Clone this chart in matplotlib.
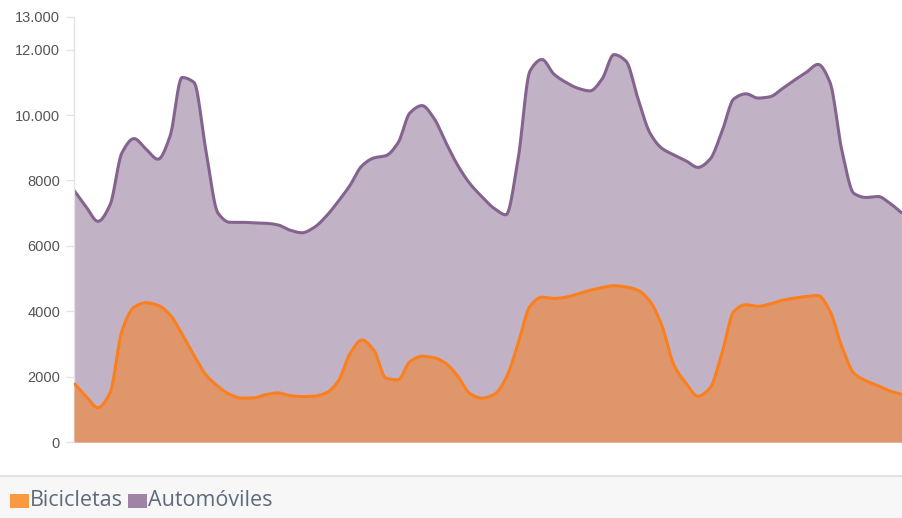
import numpy as np
import matplotlib
matplotlib.use("Agg")
import matplotlib.pyplot as plt
from matplotlib.patches import Rectangle
from matplotlib.lines import Line2D

# series values (one sample per step along the x axis)
automoviles = [7700, 7200, 6750, 7250, 8850, 9280, 8960, 8650, 9350, 11150,
               11000, 8900, 7000, 6720, 6720, 6700, 6690, 6640, 6480, 6400,
               6560, 6900, 7350, 7850, 8450, 8690, 8760, 9150, 10070, 10290,
               9900, 9150, 8450, 7900, 7500, 7150, 6950, 8640, 11350, 11700,
               11250, 11000, 10820, 10740, 11100, 11850, 11650, 10500, 9450, 8980,
               8780, 8600, 8400, 8650, 9500, 10500, 10650, 10520, 10560, 10800,
               11060, 11300, 11550, 11000, 8900, 7600, 7480, 7510, 7300, 7000]
bicicletas = [1800, 1400, 1050, 1500, 3400, 4120, 4260, 4180, 3890, 3300,
              2650, 2050, 1700, 1450, 1340, 1350, 1450, 1500, 1420, 1390,
              1400, 1500, 1850, 2700, 3120, 2800, 1950, 1900, 2460, 2620,
              2580, 2400, 2000, 1480, 1340, 1450, 1950, 3000, 4150, 4430,
              4390, 4430, 4530, 4640, 4720, 4780, 4740, 4640, 4300, 3550,
              2350, 1800, 1400, 1650, 2720, 4000, 4200, 4150, 4220, 4330,
              4400, 4450, 4480, 4000, 2900, 2100, 1870, 1720, 1560, 1450]
series_names = ["Bicicletas", "Automóviles"]
yticks = [0, 2000, 4000, 6000, 8000, 10000, 12000, 13000]
ytick_labels = ["0", "2000", "4000", "6000", "8000", "10.000", "12.000", "13.000"]


def smooth(y, steps=12):
    # monotone cubic (Fritsch-Carlson) curve through the points, like d3 curveMonotoneX
    y = np.asarray(y, dtype=float)
    x = np.arange(len(y), dtype=float)
    d = np.diff(y)
    m = np.zeros_like(y)
    m[0], m[-1] = d[0], d[-1]
    for i in range(1, len(y) - 1):
        if d[i - 1] * d[i] <= 0:
            m[i] = 0
        else:
            m[i] = 2 / (1 / d[i - 1] + 1 / d[i])
    xs, ys = [], []
    for i in range(len(y) - 1):
        t = np.linspace(0, 1, steps, endpoint=False)
        h00 = 2 * t**3 - 3 * t**2 + 1
        h10 = t**3 - 2 * t**2 + t
        h01 = -2 * t**3 + 3 * t**2
        h11 = t**3 - t**2
        xs.append(x[i] + t)
        ys.append(h00 * y[i] + h10 * m[i] + h01 * y[i + 1] + h11 * m[i + 1])
    xs.append([x[-1]])
    ys.append([y[-1]])
    return np.concatenate(xs), np.concatenate(ys)


fig = plt.figure(figsize=(9.02, 5.18), dpi=100)
ax = fig.add_axes([74 / 902, 1 - 442 / 518, 1 - 74 / 902, (442 - 17) / 518])

xa, ya = smooth(automoviles)
xb, yb = smooth(bicicletas)
ax.fill_between(xa, 0, ya, color="#c1b2c6", lw=0, zorder=1)
ax.plot(xa, ya, color="#84648f", lw=2.2, zorder=2, solid_capstyle="butt")
ax.fill_between(xb, 0, yb, color="#e0966b", lw=0, zorder=3)
ax.plot(xb, yb, color="#fb7f1c", lw=2.2, zorder=4, solid_capstyle="butt")

ax.set_xlim(0, len(automoviles) - 1)
ax.set_ylim(0, 13000)
ax.set_xticks([])
ax.set_yticks(yticks)
ax.set_yticklabels(ytick_labels, fontsize=10.5, color="#555555", family="Liberation Sans")
ax.tick_params(axis="y", length=6, color="#e3e3e3", width=1, pad=4)
for s in ["top", "right", "bottom"]:
    ax.spines[s].set_visible(False)
ax.spines["left"].set_color("#e3e3e3")
ax.spines["left"].set_linewidth(1)

# legend band at the bottom
fig.patches.append(Rectangle((0, 0), 1, 42 / 518, transform=fig.transFigure,
                             facecolor="#f7f7f7", edgecolor="none", zorder=0))
fig.lines.append(Line2D([0, 1], [42 / 518, 42 / 518], transform=fig.transFigure,
                        color="#dddddd", lw=1.2))
fig.patches.append(Rectangle((10 / 902, 10 / 518), 19 / 902, 14 / 518, transform=fig.transFigure,
                             facecolor="#f99a41", edgecolor="none"))
fig.text(30 / 902, 17 / 518, series_names[0], fontsize=15.5, color="#5f6b7a",
         family="Open Sans", va="center", ha="left")
fig.patches.append(Rectangle((128 / 902, 10 / 518), 19 / 902, 14 / 518, transform=fig.transFigure,
                             facecolor="#9f84a6", edgecolor="none"))
fig.text(148 / 902, 17 / 518, series_names[1], fontsize=15.5, color="#5f6b7a",
         family="Open Sans", va="center", ha="left")

fig.savefig("out.png", dpi=100)
